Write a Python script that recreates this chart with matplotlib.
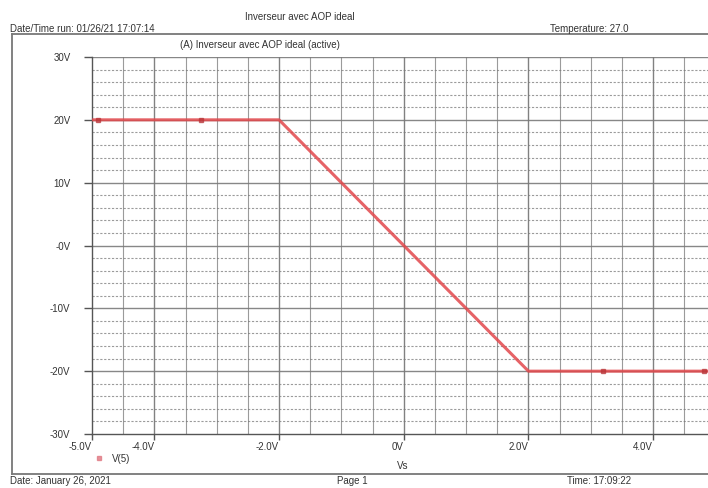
import matplotlib.pyplot as plt
from matplotlib.lines import Line2D

plt.rcParams["font.family"] = ["Liberation Sans", "DejaVu Sans"]

# V(5) versus the input sweep Ve (inverting amplifier, ideal op-amp)
ve = [-5.0, -2.0, 2.0, 5.0]
vs = [20.0, 20.0, -20.0, -20.0]

# trace symbols drawn along the curve
ve_mark = [-4.9, -3.25, 3.2, 4.82]
vs_mark = [20.0, 20.0, -20.0, -20.0]

xticks = [-5, -4, -2, 0, 2, 4]
xtick_labels = ["-5.0V", "-4.0V", "-2.0V", "0V", "2.0V", "4.0V"]
yticks = [30, 20, 10, 0, -10, -20, -30]
ytick_labels = ["30V", "20V", "10V", "-0V", "-10V", "-20V", "-30V"]

TRACE = "#e2484c"
GRID = "#7a7a7a"
TXT = "#333333"

W, H = 708, 488
fig = plt.figure(figsize=(W / 100, H / 100), dpi=100)


def fx(px):
    return px / W


def fy(py):
    return 1 - py / H


# plot area: -5V at x=92, +5V at x=715 (beyond the page edge), 30V at y=57, -30V at y=434
ax = fig.add_axes([fx(92), fy(434), (715.5 - 92) / W, (434 - 57) / H])
ax.set_xlim(-5, 5)
ax.set_ylim(-30, 30)

# grid: solid verticals every 0.5V, solid horizontals every 10V, dotted every 2V
for v in [i * 0.5 for i in range(-9, 10)]:
    ax.axvline(v, color=GRID, lw=1.0 if v % 2 == 0 else 0.8,
               alpha=0.95 if v % 2 == 0 else 0.75, zorder=1)
for v in range(-28, 30, 2):
    if v % 10:
        ax.axhline(v, color=GRID, lw=0.8, ls=(0, (2, 1.5)), alpha=0.75, zorder=1)
for v in range(-20, 31, 10):
    ax.axhline(v, color=GRID, lw=1.0, alpha=0.9, zorder=1)

ax.plot(ve, vs, color=TRACE, lw=2.2, alpha=0.85, zorder=3, solid_capstyle="butt")
ax.plot(ve_mark, vs_mark, ls="none", marker="s", ms=2.2, color="#b83438",
        alpha=0.7, zorder=4)

for side in ["top", "right"]:
    ax.spines[side].set_visible(False)
for side in ["left", "bottom"]:
    ax.spines[side].set_color("#555555")
    ax.spines[side].set_linewidth(1.0)

ax.set_xticks(xticks)
ax.set_xticklabels(xtick_labels, ha="right")
ax.set_yticks(yticks)
ax.set_yticklabels(ytick_labels)
ax.tick_params(axis="x", length=4.5, width=1.0, color="#555555", pad=1,
               labelsize=7, labelcolor=TXT)
ax.tick_params(axis="y", length=5.5, width=1.0, color="#555555", pad=10,
               labelsize=7, labelcolor=TXT)
ax.set_facecolor("white")

# page frame around the plot
frame = fig.add_axes([fx(12), fy(474), 1.2, (474 - 34) / H])
frame.set_xticks([])
frame.set_yticks([])
frame.patch.set_alpha(0)
frame.set_zorder(-1)
for s in frame.spines.values():
    s.set_color("#777777")
    s.set_linewidth(1.3)

# header and footer text
fig.text(fx(300), fy(17), "Inverseur avec AOP ideal", ha="center", va="center",
         fontsize=7, color=TXT)
fig.text(fx(10), fy(29), "Date/Time run: 01/26/21 17:07:14", ha="left", va="center",
         fontsize=7, color=TXT)
fig.text(fx(550), fy(29), "Temperature: 27.0", ha="left", va="center",
         fontsize=7, color=TXT)
fig.text(fx(180), fy(45), "(A) Inverseur avec AOP ideal (active)", ha="left",
         va="center", fontsize=7, color=TXT)
fig.text(fx(403), fy(466), "Vs", ha="center", va="center", fontsize=7, color=TXT)
fig.text(fx(10), fy(481), "Date: January 26, 2021", ha="left", va="center",
         fontsize=7, color=TXT)
fig.text(fx(337), fy(481), "Page 1", ha="left", va="center", fontsize=7, color=TXT)
fig.text(fx(567), fy(481), "Time: 17:09:22", ha="left", va="center",
         fontsize=7, color=TXT)

# trace legend
fig.add_artist(Line2D([fx(99)], [fy(458)], marker="s", ms=2.5, ls="none",
                      color="#e07a84", alpha=0.8))
fig.text(fx(112), fy(459), "V(5)", ha="left", va="center", fontsize=7, color=TXT)

fig.savefig("out.png", dpi=100)
